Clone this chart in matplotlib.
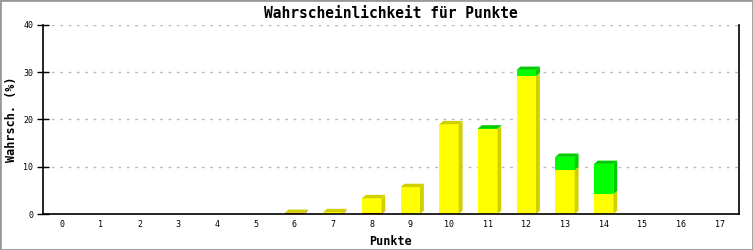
import matplotlib
matplotlib.use("Agg")
import matplotlib.pyplot as plt
from matplotlib.patches import Polygon, Rectangle
import numpy as np

# data
punkte = list(range(18))
rot = [0, 0, 0, 0, 0, 0, 0.15, 0.1, 0.15, 0, 0, 0, 0, 0, 0, 0, 0, 0]
gelb = [0, 0, 0, 0, 0, 0, 0.1, 0.3, 3.2, 5.7, 19.0, 18.0, 29.2, 9.3, 4.2, 0, 0, 0]
gruen = [0, 0, 0, 0, 0, 0, 0, 0, 0, 0, 0, 0.1, 1.3, 2.8, 6.4, 0, 0, 0]
yticks = [0, 10, 20, 30, 40]

front = ["#ff0000", "#ffff00", "#00ff00"]
side = ["#cc0000", "#d0d000", "#00cc00"]
breite = 0.5
dx, dy = 0.1, 0.7

plt.rcParams['font.family'] = ['DejaVu Sans Mono']

fig = plt.figure(figsize=(7.53, 2.5), dpi=100)
fig.patches.append(Rectangle((0, 0), 1, 1, transform=fig.transFigure,
                             fill=False, edgecolor="#999999", linewidth=2))
ax = fig.add_axes([43/753, 36/250, 696/753, 189/250])

x = np.array(punkte)
serien = [np.array(rot), np.array(gelb), np.array(gruen)]
unten = np.zeros(len(x))
gesamt = sum(serien)
for k, s in enumerate(serien):
    ax.bar(x, s, breite, bottom=unten, color=front[k], zorder=3, linewidth=0)
    for i in range(len(x)):
        if s[i] <= 0:
            continue
        b, t = unten[i], unten[i] + s[i]
        r = x[i] + breite/2
        l = x[i] - breite/2
        ax.add_patch(Polygon([(r, b), (r+dx, b+dy), (r+dx, t+dy), (r, t)],
                             closed=True, color=side[k], linewidth=0, zorder=3))
        if np.isclose(t, gesamt[i]):
            ax.add_patch(Polygon([(l, t), (l+dx, t+dy), (r+dx, t+dy), (r, t)],
                                 closed=True, color=side[k], linewidth=0, zorder=3))
    unten = unten + s

ax.set_xlim(-0.5, 17.5)
ax.set_ylim(0, 40)
ax.set_xticks(x)
ax.set_xticklabels([str(p) for p in punkte], fontsize=6)
ax.set_yticks(yticks)
ax.set_yticklabels([str(v) for v in yticks], fontsize=6)
ax.tick_params(axis="x", length=0, pad=4)
ax.tick_params(axis="y", direction="inout", length=8, width=1, pad=3)
ax.grid(axis="y", color="#bbbbbb", linestyle=(0, (2, 4)), linewidth=1, zorder=0)
ax.spines["top"].set_visible(False)
for sp in ["left", "bottom", "right"]:
    ax.spines[sp].set_linewidth(1.2)
    ax.spines[sp].set_zorder(4)

ax.set_title("Wahrscheinlichkeit für Punkte", fontsize=10.5, fontweight="bold", pad=5)
ax.set_xlabel("Punkte", fontsize=8.5, fontweight="bold")
ax.set_ylabel("Wahrsch. (%)", fontsize=8.5, fontweight="bold")
ax.xaxis.set_label_coords(0.5, -21/189)
ax.yaxis.set_label_coords(-25/696, 0.5)

fig.savefig("out.png", dpi=100)
